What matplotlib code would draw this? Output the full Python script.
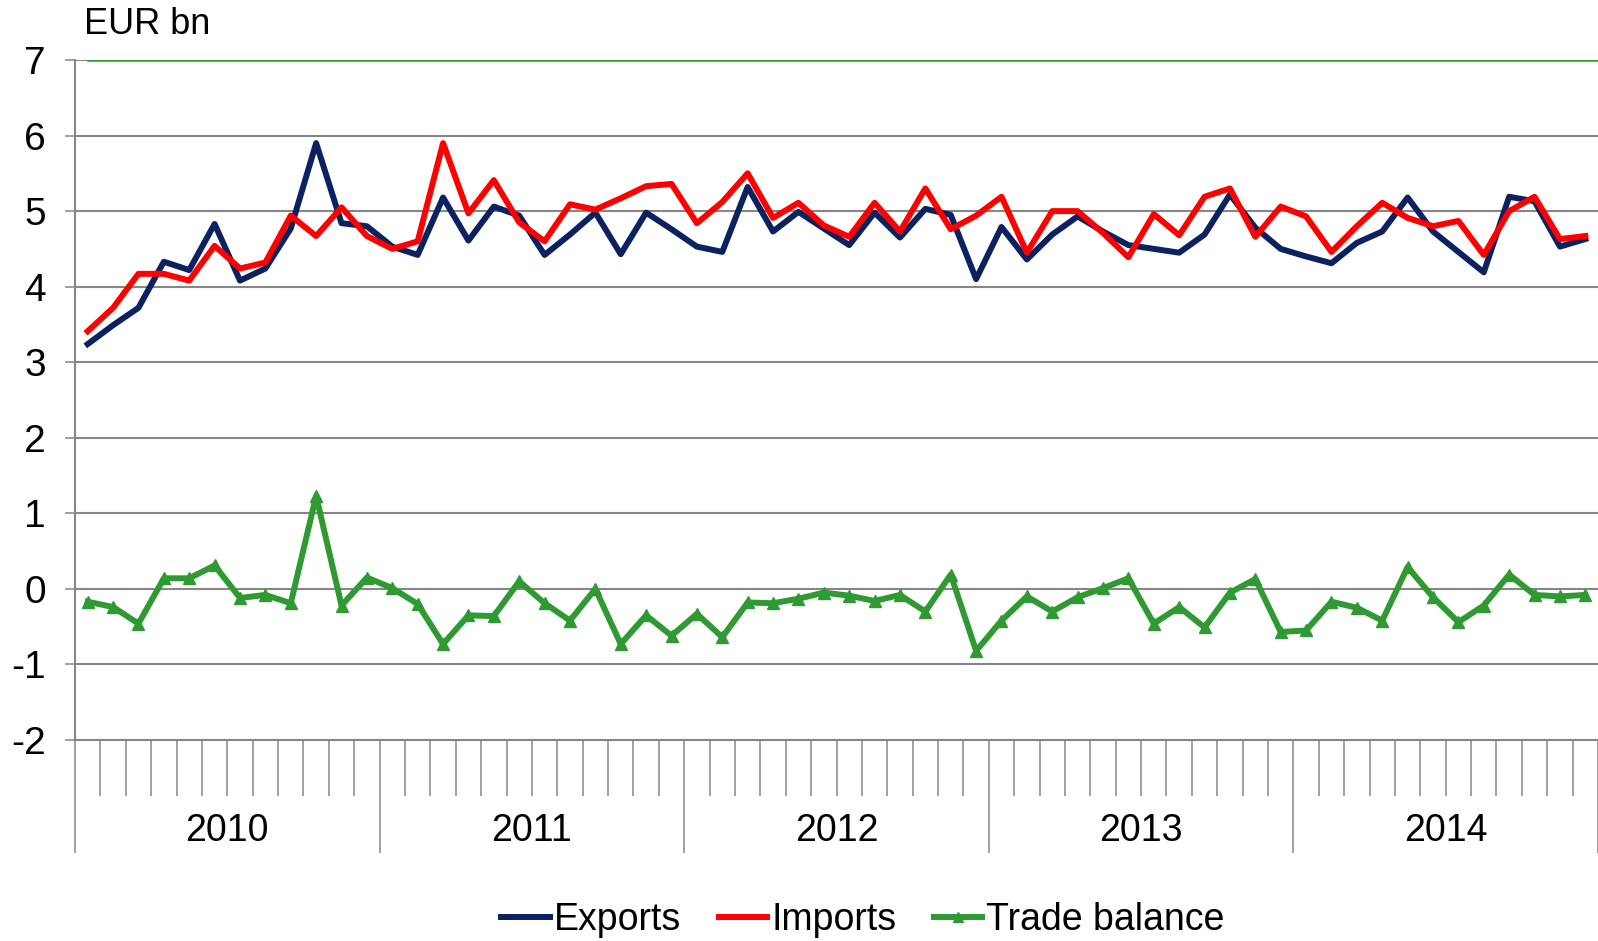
import matplotlib.pyplot as plt
from matplotlib.lines import Line2D
import numpy as np

plt.rcParams['font.family'] = ['Liberation Sans', 'DejaVu Sans']
plt.rcParams['axes.unicode_minus'] = False

years = ['2010', '2011', '2012', '2013', '2014']

# monthly values, Jan 2010 - Dec 2014, EUR bn
exports = [3.24, 3.49, 3.72, 4.33, 4.22, 4.83, 4.08, 4.24, 4.77, 5.90, 4.84, 4.80,
           4.53, 4.42, 5.18, 4.61, 5.06, 4.94, 4.42, 4.69, 4.98, 4.43, 4.98, 4.76,
           4.53, 4.46, 5.32, 4.73, 4.99, 4.77, 4.55, 4.98, 4.65, 5.03, 4.95, 4.10,
           4.79, 4.36, 4.69, 4.93, 4.73, 4.55, 4.50, 4.45, 4.69, 5.22, 4.78, 4.50,
           4.40, 4.31, 4.58, 4.73, 5.18, 4.73, 4.46, 4.19, 5.19, 5.13, 4.53, 4.63]
imports = [3.41, 3.72, 4.17, 4.17, 4.08, 4.54, 4.24, 4.32, 4.94, 4.67, 5.05, 4.67,
           4.50, 4.60, 5.90, 4.97, 5.41, 4.85, 4.60, 5.09, 5.02, 5.17, 5.33, 5.36,
           4.84, 5.12, 5.50, 4.91, 5.11, 4.81, 4.66, 5.11, 4.73, 5.30, 4.76, 4.94,
           5.19, 4.45, 5.00, 5.00, 4.71, 4.39, 4.96, 4.68, 5.19, 5.30, 4.66, 5.06,
           4.93, 4.46, 4.80, 5.11, 4.91, 4.80, 4.87, 4.42, 5.00, 5.19, 4.63, 4.67]
balance = [-0.17, -0.24, -0.46, 0.14, 0.14, 0.31, -0.12, -0.08, -0.19, 1.23, -0.22, 0.15,
           0.01, -0.20, -0.73, -0.35, -0.36, 0.10, -0.19, -0.42, 0.00, -0.73, -0.35, -0.62,
           -0.33, -0.64, -0.18, -0.19, -0.13, -0.05, -0.09, -0.16, -0.08, -0.30, 0.19, -0.82,
           -0.42, -0.10, -0.30, -0.11, 0.01, 0.14, -0.46, -0.24, -0.51, -0.05, 0.13, -0.57,
           -0.55, -0.17, -0.25, -0.42, 0.29, -0.11, -0.44, -0.22, 0.19, -0.08, -0.10, -0.08]

navy = '#0b2160'
red = '#ff0000'
green = '#2e9a31'
grey = '#868686'

n = len(exports)
x = np.arange(n) + 0.5

fig = plt.figure(figsize=(15.98, 9.41), dpi=100)
ax = fig.add_axes([75 / 1598, 1 - 740 / 941, 1 - 75 / 1598, 680 / 941])

for v in range(-1, 8):
    ax.axhline(v, color=grey, lw=1.5, zorder=1)
ax.axhline(7, xmin=0.5 / n, color=green, lw=1.8, zorder=2)

ax.plot(x, exports, color=navy, lw=4.3, zorder=3)
ax.plot(x, imports, color=red, lw=4.3, zorder=4)
ax.plot(x, balance, color=green, lw=4.3, marker='^', ms=8, zorder=5)

ax.set_xlim(0, n)
ax.set_ylim(-2, 7)
ax.set_yticks(range(-2, 8))
ax.tick_params(axis='y', length=7, width=1.1, color=grey, pad=14, labelsize=28)

for s in ['top', 'right']:
    ax.spines[s].set_visible(False)
for s in ['left', 'bottom']:
    ax.spines[s].set_color(grey)
    ax.spines[s].set_linewidth(1.5)

year_bounds = list(range(0, n + 1, 12))
ax.set_xticks(year_bounds)
ax.set_xticklabels([])
ax.set_xticks([k for k in range(1, n) if k % 12], minor=True)
ax.tick_params(axis='x', which='major', length=81, width=1.1, color=grey)
ax.tick_params(axis='x', which='minor', length=40, width=1.1, color=grey)

for j, yr in enumerate(years):
    ax.text(12 * j + 6, -3.2, yr, ha='center', va='center', fontsize=27, clip_on=False)

fig.text(84 / 1598, 1 - 24 / 941, 'EUR bn', ha='left', va='center', fontsize=26)

handles = [Line2D([], [], color=navy, lw=4.3),
           Line2D([], [], color=red, lw=4.3),
           Line2D([], [], color=green, lw=4.3, marker='^', ms=7)]
fig.legend(handles, ['Exports', 'Imports', 'Trade balance'], loc='center',
           bbox_to_anchor=(0.54, 0.022), ncol=3, frameon=False, fontsize=27,
           handlelength=1.3, handletextpad=0.1, columnspacing=1.0)

fig.savefig('out.png', dpi=100)
